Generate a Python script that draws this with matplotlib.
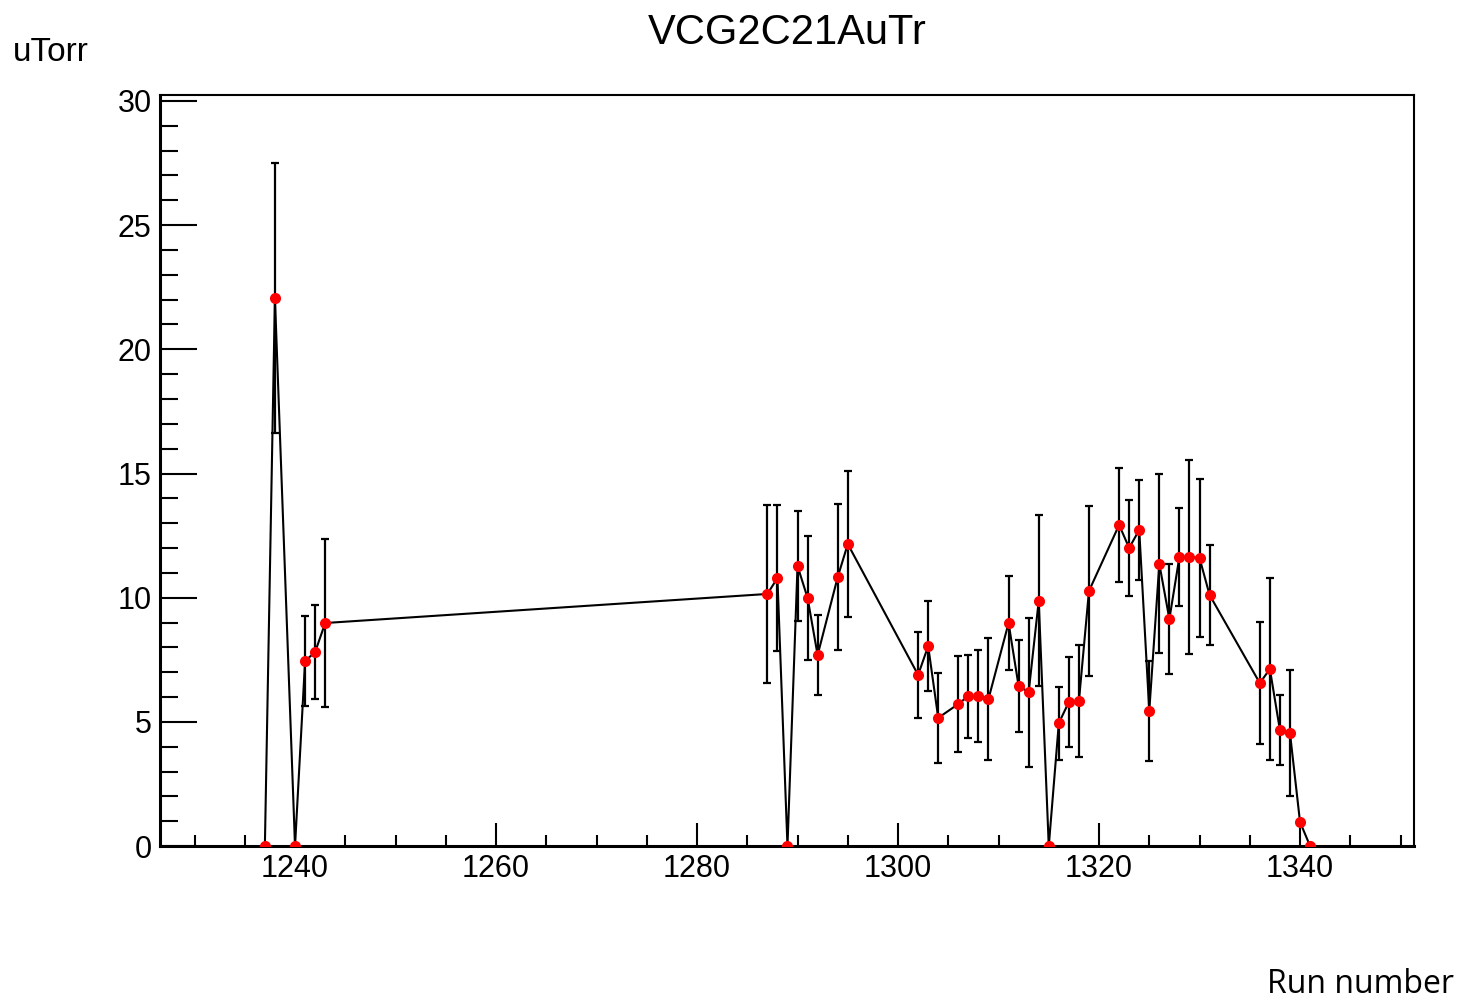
import matplotlib.pyplot as plt
from matplotlib.ticker import MultipleLocator

# run numbers and readings (uTorr) with errors
runs = [1237, 1238, 1240, 1241, 1242, 1243,
        1287, 1288, 1289, 1290, 1291, 1292, 1294, 1295,
        1302, 1303, 1304, 1306, 1307, 1308, 1309,
        1311, 1312, 1313, 1314, 1315, 1316, 1317, 1318, 1319,
        1322, 1323, 1324, 1325, 1326, 1327, 1328, 1329, 1330, 1331,
        1336, 1337, 1338, 1339, 1340, 1341]
pressure = [0.0, 22.07, 0.0, 7.45, 7.81, 8.98,
            10.15, 10.79, 0.0, 11.28, 9.99, 7.69, 10.83, 12.16,
            6.89, 8.05, 5.16, 5.72, 6.04, 6.04, 5.92,
            8.98, 6.44, 6.20, 9.87, 0.0, 4.95, 5.80, 5.84, 10.27,
            12.93, 12.00, 12.73, 5.44, 11.36, 9.14, 11.64, 11.64, 11.60, 10.11,
            6.56, 7.13, 4.67, 4.55, 0.97, 0.0]
errors = [0.0, 5.45, 0.0, 1.80, 1.90, 3.40,
          3.57, 2.95, 0.0, 2.20, 2.50, 1.60, 2.95, 2.95,
          1.72, 1.80, 1.80, 1.95, 1.67, 1.85, 2.47,
          1.90, 1.85, 3.00, 3.44, 0.0, 1.47, 1.80, 2.24, 3.42,
          2.30, 1.93, 2.00, 2.00, 3.60, 2.20, 1.97, 3.90, 3.18, 2.00,
          2.47, 3.65, 1.40, 2.55, 0.0, 0.0]

plt.rcParams['font.family'] = ['Liberation Sans', 'DejaVu Sans']

fig = plt.figure(figsize=(14.63, 10.01), dpi=100)
ax = fig.add_axes([0.1094, 0.1548, 0.8571, 0.7503])

ax.errorbar(runs, pressure, yerr=errors, fmt='none', ecolor='black',
            elinewidth=1.6, capsize=3, capthick=1.6, zorder=2)
ax.plot(runs, pressure, color='black', linewidth=1.5, zorder=3)
ax.plot(runs, pressure, 'o', color='red', markersize=8, markeredgewidth=0, zorder=4)

ax.set_xlim(1226.57, 1351.34)
ax.set_ylim(0, 30.24)

ax.xaxis.set_major_locator(MultipleLocator(20))
ax.xaxis.set_minor_locator(MultipleLocator(5))
ax.yaxis.set_major_locator(MultipleLocator(5))
ax.yaxis.set_minor_locator(MultipleLocator(1))

ax.tick_params(axis='both', which='both', direction='in', top=False, right=False,
               width=1.5, labelsize=22, color='black')
ax.tick_params(axis='x', which='major', length=16.5, pad=6)
ax.tick_params(axis='x', which='minor', length=8)
ax.tick_params(axis='y', which='major', length=26.5, pad=6)
ax.tick_params(axis='y', which='minor', length=13)

for side in ['left', 'bottom']:
    ax.spines[side].set_linewidth(2.2)
for side in ['top', 'right']:
    ax.spines[side].set_linewidth(1.5)

fig.text(0.538, 0.967, 'VCG2C21AuTr', ha='center', va='center', fontsize=30)
fig.text(0.009, 0.948, 'uTorr', ha='left', va='center', fontsize=24)
fig.text(0.994, 0.016, 'Run number', ha='right', va='center', fontsize=23,
         family=['Open Sans', 'DejaVu Sans'])

fig.savefig('out.png', dpi=100)
